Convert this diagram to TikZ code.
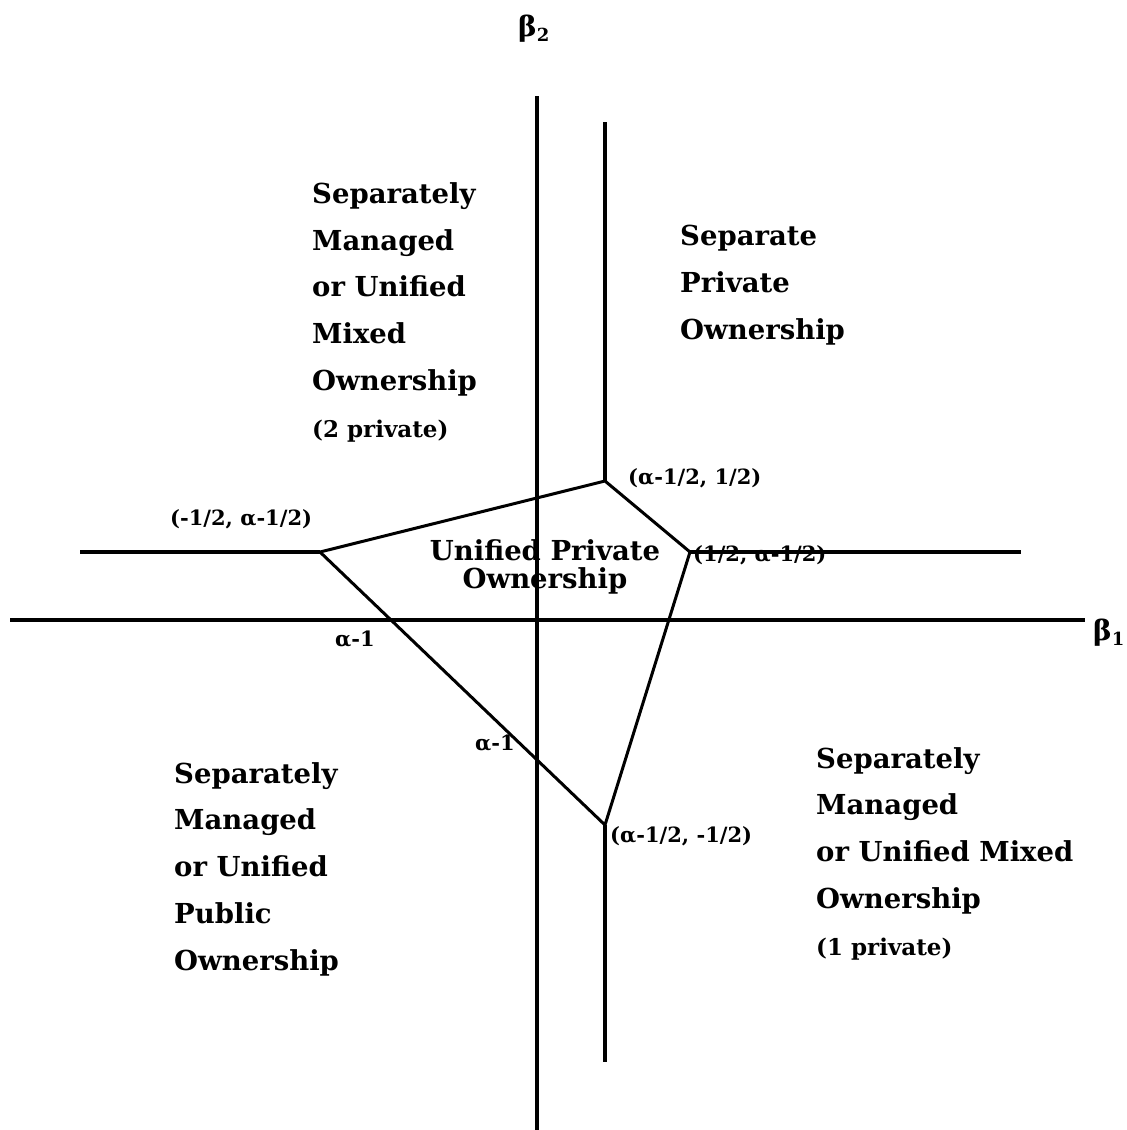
\documentclass[tikz,border=0pt]{standalone}
\usepackage{fontspec}
\setmainfont{DejaVu Serif}
\begin{document}
\begin{tikzpicture}[x=1pt,y=-1pt,
  axis/.style={line width=4.5pt},
  bound/.style={line width=4pt},
  edge/.style={line width=3pt, line join=miter},
  region/.style={font=\fontsize{27.5}{46.7}\selectfont\bfseries, align=left, anchor=base west, inner sep=0pt},
  ptlabel/.style={font=\fontsize{21}{24}\selectfont\bfseries, anchor=base west, inner sep=0pt},
  axlabel/.style={font=\fontsize{28}{30}\selectfont\bfseries, inner sep=0pt},
]
\useasboundingbox (0,0) rectangle (1127,1130);
% axis end points
\coordinate (xL) at (10,620);
\coordinate (xR) at (1085,620);
\coordinate (yT) at (537,96);
\coordinate (yB) at (537,1130);
% boundary end points
\coordinate (vT) at (605,122);
\coordinate (vB) at (605,1062);
\coordinate (hL) at (80,552);
\coordinate (hR) at (1021,552);
% polygon vertices
\coordinate (P1) at (320,552);
\coordinate (P2) at (605,481);
\coordinate (P3) at (690,552);
\coordinate (P4) at (605,825);

\draw[axis] (xL) -- (xR);
\draw[axis] (yT) -- (yB);
\draw[bound] (vT) -- (P2);
\draw[bound] (P4) -- (vB);
\draw[bound] (hL) -- (P1);
\draw[bound] (P3) -- (hR);
\draw[edge] (P1) -- (P2) -- (P3) -- (P4) -- cycle;

% axis labels
\node[axlabel, anchor=base west] (b2) at (518,36) {β\raisebox{-0.4ex}{\fontsize{18}{18}\selectfont 2}};
\node[axlabel, anchor=base west] (b1) at (1093,640) {β\raisebox{-0.4ex}{\fontsize{18}{18}\selectfont 1}};

% regions (anchor = baseline of last line)
\node[region] (r1) at (312,437) {Separately\\Managed\\or Unified\\Mixed\\Ownership\\{\fontsize{23}{46.7}\selectfont (2 private)}};
\node[region] (r2) at (680,339) {Separate\\Private\\Ownership};
\node[region] (r3) at (174,970) {Separately\\Managed\\or Unified\\Public\\Ownership};
\node[region] (r4) at (816,955) {Separately\\Managed\\or Unified Mixed\\Ownership\\{\fontsize{23}{46.7}\selectfont (1 private)}};
\node[font=\fontsize{27.5}{28}\selectfont\bfseries, align=center, anchor=base, inner sep=0pt] (c) at (545,588) {Unified Private\\Ownership};

% point labels
\node[ptlabel] (l1) at (628,484) {(α-1/2, 1/2)};
\node[ptlabel] (l2) at (170,525) {(-1/2, α-1/2)};
\node[ptlabel] (l3) at (693,561) {(1/2, α-1/2)};
\node[ptlabel] (l4) at (610,842) {(α-1/2, -1/2)};
\node[ptlabel] (l5) at (335,646) {α-1};
\node[ptlabel] (l6) at (475,750) {α-1};
\end{tikzpicture}
\end{document}
